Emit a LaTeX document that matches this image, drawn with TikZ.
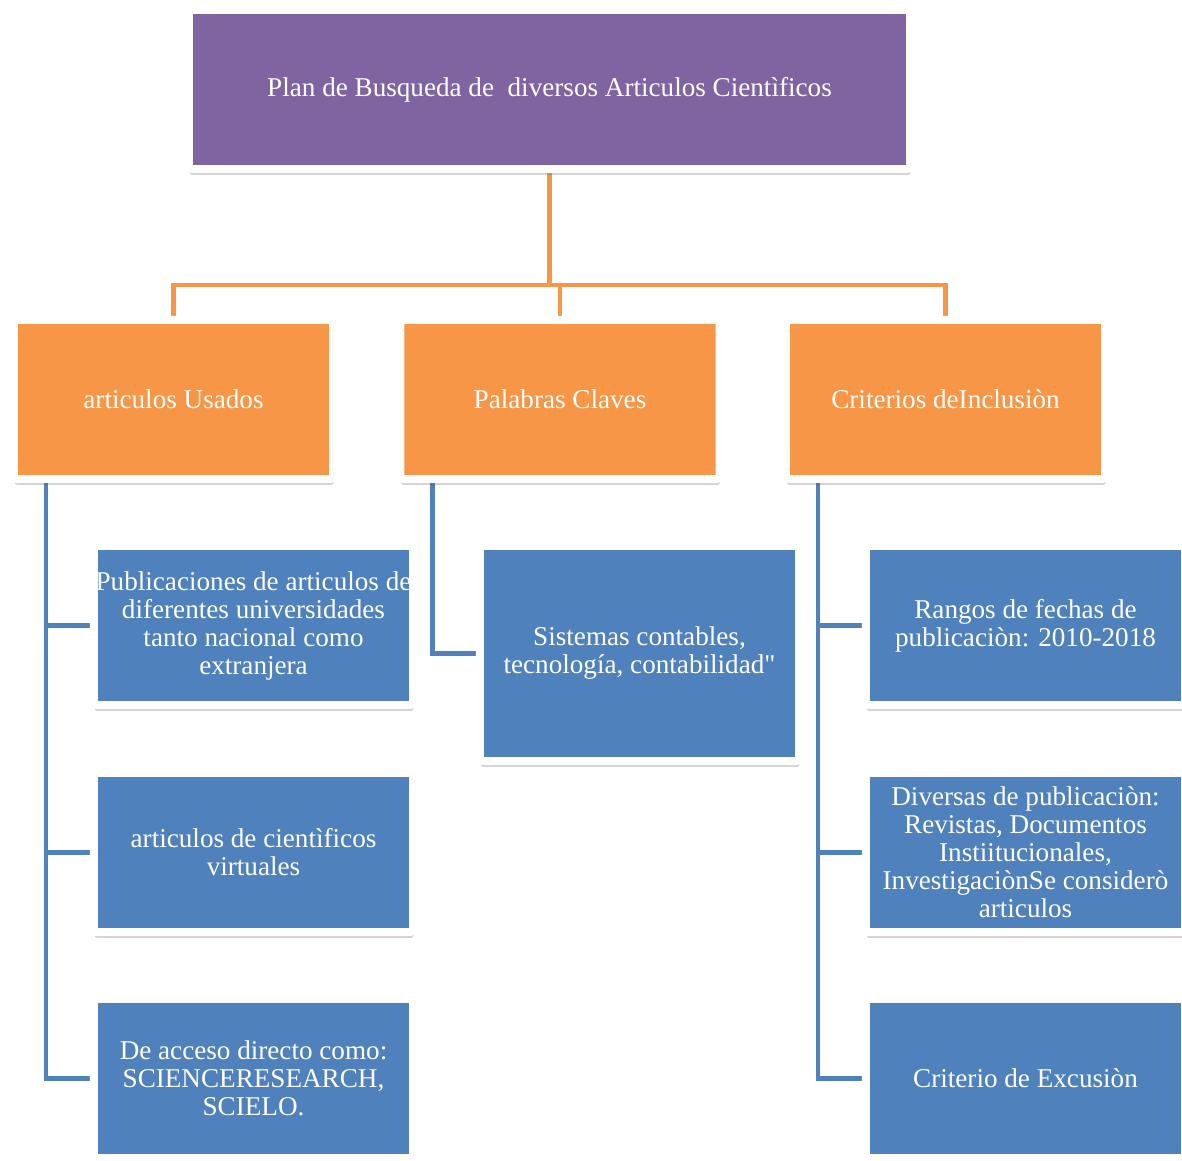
\documentclass[tikz,border=0pt]{standalone}
\usepackage{fontspec}
\setmainfont{Liberation Serif}
\usetikzlibrary{positioning,shadows,backgrounds}
\definecolor{purple1}{HTML}{8064A2}
\definecolor{orange1}{HTML}{F79646}
\definecolor{blue1}{HTML}{4F81BD}

\begin{document}
\begin{tikzpicture}[
    x=0.025cm, y=-0.025cm,
    box/.style={draw=white, line width=5.67pt, rounded corners=2pt,
                text=white, align=center, inner sep=0pt,
                minimum width=7.975cm, minimum height=3.975cm,
                font=\fontsize{19.3}{19.9}\selectfont,
                drop shadow={shadow xshift=0.4pt, shadow yshift=-4.2pt,
                             opacity=0.22, fill=black!80}},
    oline/.style={orange1, line width=3.5pt},
    bline/.style={blue1, line width=3.5pt},
]
\useasboundingbox (0,0) rectangle (1182,1161);

% top
\node[box, fill=purple1, minimum width=18.025cm] (root) at (549.5,89.5)
    {Plan de Busqueda de~ diversos Articulos Cientìficos};

% categories
\node[box, fill=orange1] (catA) at (173.5,399.5) {articulos Usados};
\node[box, fill=orange1] (catB) at (560,399.5) {Palabras Claves};
\node[box, fill=orange1] (catC) at (945.5,399.5) {Criterios deInclusiòn};

% articulos Usados
\node[box, fill=blue1] (a1) at (253.5,625.5)
    {Publicaciones de articulos de\\diferentes universidades\\tanto nacional como\\extranjera};
\node[box, fill=blue1] (a2) at (253.5,852.5)
    {articulos de cientìficos\\virtuales};
\node[box, fill=blue1] (a3) at (253.5,1078.5)
    {De acceso directo como:\\SCIENCERESEARCH,\\SCIELO.};

% Palabras Claves
\node[box, fill=blue1, minimum height=5.375cm] (b1) at (639.5,653.5)
    {Sistemas contables,\\tecnología, contabilidad\textquotedbl};

% Criterios
\node[box, fill=blue1] (c1) at (1025.5,625.5)
    {Rangos de fechas de\\publicaciòn: 2010-2018};
\node[box, fill=blue1] (c2) at (1025.5,852.5)
    {Diversas de publicaciòn:\\Revistas, Documentos\\Instiitucionales,\\InvestigaciònSe considerò\\articulos};
\node[box, fill=blue1] (c3) at (1025.5,1078.5)
    {Criterio de Excusiòn};

% connectors
\begin{scope}[on background layer]
\fill[white] (0,0) rectangle (1182,1161);
\coordinate (bus) at (549.5,285);
\draw[oline] (root.south) -- (bus);
\draw[oline] (catA.north) -- (catA.north |- bus) -- (catC.north |- bus) -- (catC.north);
\draw[oline] (catB.north) -- (catB.north |- bus);

\coordinate (sA) at ([xshift=0.9cm]catA.south west);
\coordinate (sB) at ([xshift=0.9cm]catB.south west);
\coordinate (sC) at ([xshift=0.9cm]catC.south west);
\draw[bline] (sA) |- (a3.west);
\draw[bline] (sB) |- (b1.west);
\draw[bline] (sC) |- (c3.west);
\foreach \n/\s in {a1/sA, a2/sA, c1/sC, c2/sC}
    \draw[bline] (\n.west) -- (\n.west -| \s);
\end{scope}
\end{tikzpicture}
\end{document}
